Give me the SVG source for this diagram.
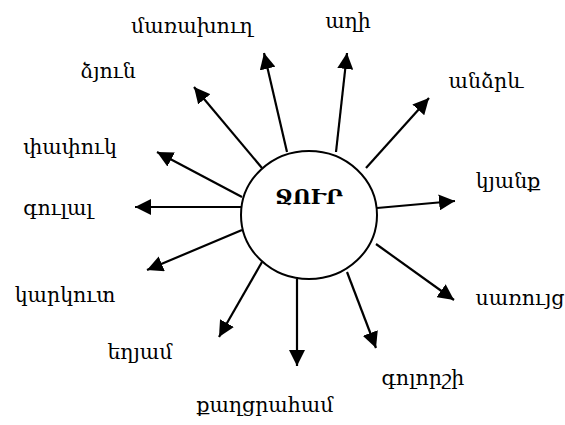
<svg xmlns="http://www.w3.org/2000/svg" width="565" height="425" viewBox="0 0 565 425">
<style>
.lbl{font-family:"DejaVu Serif","Noto Sans",serif;font-size:20.5px;fill:#000;text-anchor:middle}
.ttl{font-family:"DejaVu Serif","Noto Sans",serif;font-size:21px;font-weight:bold;fill:#000;text-anchor:middle}
.c{stroke:#000;stroke-width:2.2;fill:none;marker-end:url(#ah)}
</style>
<defs>
<marker id="ah" markerUnits="userSpaceOnUse" markerWidth="18" markerHeight="16" refX="16" refY="8" orient="auto">
<path d="M0,0 L16,8 L0,16 Z" fill="#000"/>
</marker>
</defs>
<rect width="565" height="425" fill="#fff"/>
<g id="connectors">
<line class="c" x1="287" y1="152" x2="264" y2="53"/>
<line class="c" x1="336" y1="152" x2="347" y2="53"/>
<line class="c" x1="366" y1="168" x2="429" y2="98"/>
<line class="c" x1="377" y1="208" x2="455" y2="201"/>
<line class="c" x1="376" y1="244" x2="454" y2="300"/>
<line class="c" x1="347" y1="272" x2="376" y2="348"/>
<line class="c" x1="297" y1="279" x2="297" y2="366"/>
<line class="c" x1="262" y1="262" x2="219" y2="337"/>
<line class="c" x1="242" y1="230" x2="147" y2="270"/>
<line class="c" x1="241" y1="207" x2="135" y2="207"/>
<line class="c" x1="242" y1="197" x2="157" y2="152"/>
<line class="c" x1="262" y1="168" x2="194" y2="87"/>
</g>
<g id="center">
<ellipse cx="309" cy="215" rx="68" ry="64" fill="#fff" stroke="#000" stroke-width="2"/>
<text class="ttl" x="309" y="204">ՋՈՒՐ</text>
</g>
<g id="n1"><text class="lbl" x="192" y="33">մառախուղ</text></g>
<g id="n2"><text class="lbl" x="348" y="28">աղի</text></g>
<g id="n3"><text class="lbl" x="486" y="88">անձրև</text></g>
<g id="n4"><text class="lbl" x="508" y="188">կյանք</text></g>
<g id="n5"><text class="lbl" x="520" y="305">սառույց</text></g>
<g id="n6"><text class="lbl" x="423" y="385">գոլորշի</text></g>
<g id="n7"><text class="lbl" x="265" y="412">քաղցրահամ</text></g>
<g id="n8"><text class="lbl" x="140" y="359">եղյամ</text></g>
<g id="n9"><text class="lbl" x="65" y="302">կարկուտ</text></g>
<g id="n10"><text class="lbl" x="58" y="215">գուլալ</text></g>
<g id="n11"><text class="lbl" x="70" y="154">փափուկ</text></g>
<g id="n12"><text class="lbl" x="108" y="78">ձյուն</text></g>
</svg>
